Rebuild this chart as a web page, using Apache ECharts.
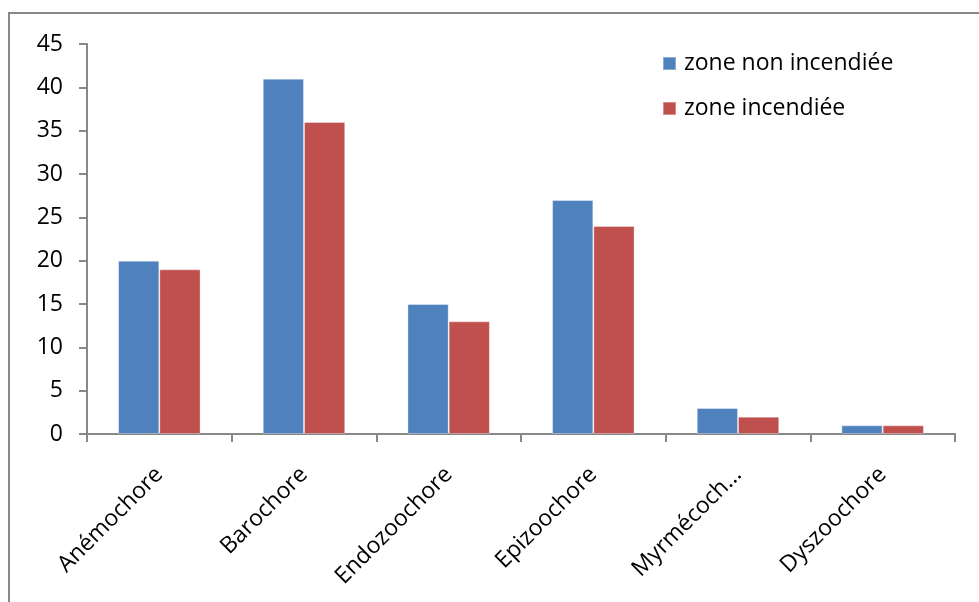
<!DOCTYPE html>
<html><head><meta charset="utf-8">
<script src="https://cdn.jsdelivr.net/npm/echarts@6/dist/echarts.min.js"></script>
<style>html,body{margin:0;padding:0;background:#fff}#c{width:979px;height:602px}</style>
</head><body><div id="c"></div>
<script>
var categories = ['Anémochore','Barochore','Endozoochore','Epizoochore','Myrmécoch...','Dyszoochore'];
var nonIncendiee = [20, 41, 15, 27, 3, 1];
var incendiee = [19, 36, 13, 24, 2, 1];
var seriesNames = ['zone non incendiée','zone incendiée'];
var yMin = 0, yMax = 45, yStep = 5;

var font = 'Open Sans';
var chart = echarts.init(document.getElementById('c'), null, {renderer:'canvas'});
chart.setOption({
  animation:false,
  backgroundColor:'#fff',
  graphic:[{type:'rect', shape:{x:9,y:13,width:1200,height:800}, style:{fill:'none', stroke:'#888', lineWidth:2}, silent:true}],
  grid:{left:87, right:24, top:44, bottom:168, containLabel:false},
  legend:{
    orient:'vertical', left:662, top:49, padding:0, itemWidth:13, itemHeight:13, itemGap:16, icon:'rect',
    textStyle:{fontFamily:font, fontSize:23, lineHeight:29, color:'#000', padding:[0,0,0,3]},
    data:seriesNames
  },
  xAxis:{
    type:'category', data:categories,
    axisLine:{lineStyle:{color:'#888', width:2}},
    axisTick:{show:true, length:8, lineStyle:{color:'#888', width:2}},
    axisLabel:{rotate:45, fontFamily:font, fontSize:23, color:'#000', margin:37, interval:0}
  },
  yAxis:{
    type:'value', min:yMin, max:yMax, interval:yStep,
    axisLine:{show:true, lineStyle:{color:'#888', width:2}},
    axisTick:{show:true, length:8, lineStyle:{color:'#888', width:2}},
    splitLine:{show:false},
    axisLabel:{fontFamily:font, fontSize:23, color:'#000', margin:24}
  },
  series:[
    {name:seriesNames[0], type:'bar', data:nonIncendiee, barGap:'0%', barCategoryGap:'43%',
     itemStyle:{color:'#4F81BD', borderColor:'rgba(255,255,255,0.35)', borderWidth:1}},
    {name:seriesNames[1], type:'bar', data:incendiee, barGap:'0%', barCategoryGap:'43%',
     itemStyle:{color:'#C0504D', borderColor:'rgba(255,255,255,0.35)', borderWidth:1}}
  ]
});
</script></body></html>
